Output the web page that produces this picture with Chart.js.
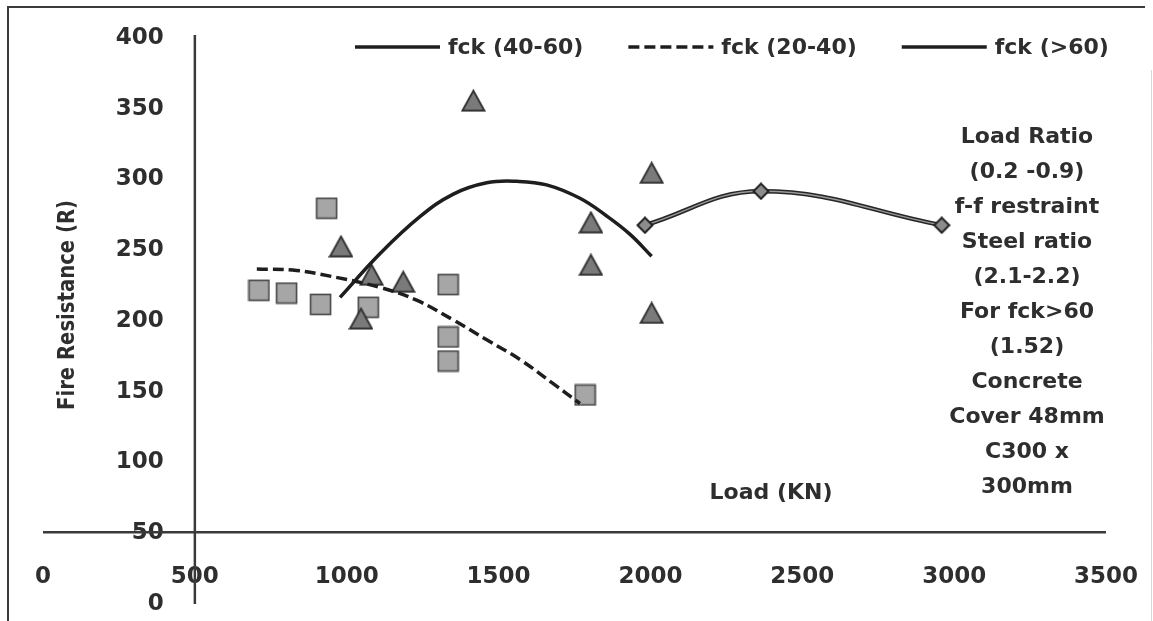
<!DOCTYPE html>
<html>
<head>
<meta charset="utf-8">
<script src="https://cdn.jsdelivr.net/npm/chart.js@4.4.0/dist/chart.umd.min.js"></script>
<style>
  html, body { margin: 0; padding: 0; background: #fff; }
  #wrap { width: 1153px; height: 621px; }
</style>
</head>
<body>
<div id="wrap"><canvas id="fireChart" width="1153" height="621"></canvas></div>
<script>
const xTicks = [0, 500, 1000, 1500, 2000, 2500, 3000, 3500];
const yTicks = [0, 50, 100, 150, 200, 250, 300, 350, 400];
const xCross = 500;
const yCross = 50;

// fck 20-40 columns (squares)
const squareLoad = [711, 802, 914, 934, 1071, 1334, 1334, 1334, 1785];
const squareFire = [221, 219, 211, 279, 209, 225, 188, 171, 147];
// fck 40-60 columns (triangles)
const triLoad = [981, 1047, 1082, 1186, 1417, 1804, 1804, 2004, 2004];
const triFire = [252, 201, 232, 227, 355, 269, 239, 304, 205];
// fck > 60 columns (diamonds, joined)
const hsLoad = [1982, 2364, 2959];
const hsFire = [267, 291, 267];

// trend curves
const trendMidLoad = [978, 1110, 1241, 1351, 1461, 1560, 1658, 1768, 1856, 1933, 2004];
const trendMidFire = [216, 247, 273, 289, 297, 298, 295.5, 286, 273.5, 260.5, 245];
const trendLowLoad = [704, 835, 945, 1110, 1230, 1351, 1461, 1571, 1680, 1768];
const trendLowFire = [236, 235, 231, 223, 214, 200, 186, 172, 155, 141];

const legendNames = ['fck (40-60)', 'fck (20-40)', 'fck (>60)'];
const noteLines = ['Load Ratio', '(0.2 -0.9)', 'f-f restraint', 'Steel ratio', '(2.1-2.2)',
  'For fck>60', '(1.52)', 'Concrete', 'Cover 48mm', 'C300 x', '300mm'];

const FONT = '"DejaVu Sans", sans-serif';
const INK = '#2e2e2e';

function pts(xs, ys) {
  return xs.map((x, i) => ({ x: x, y: ys[i] }));
}

// small canvases used as point styles
function marker(kind) {
  const c = document.createElement('canvas');
  if (kind === 'square') {
    c.width = 23; c.height = 23;
    const g = c.getContext('2d');
    g.fillStyle = '#a6a6a6';
    g.strokeStyle = '#474747';
    g.lineWidth = 1.6;
    g.fillRect(1.5, 1.5, 20, 20);
    g.strokeRect(1.5, 1.5, 20, 20);
  } else if (kind === 'triangle') {
    c.width = 25; c.height = 23;
    const g = c.getContext('2d');
    g.fillStyle = '#7a7a7a';
    g.strokeStyle = '#303030';
    g.lineWidth = 1.8;
    g.beginPath();
    g.moveTo(12.5, 1.5);
    g.lineTo(23.5, 21.5);
    g.lineTo(1.5, 21.5);
    g.closePath();
    g.fill();
    g.stroke();
  } else {
    c.width = 18; c.height = 18;
    const g = c.getContext('2d');
    g.fillStyle = '#8c8c8c';
    g.strokeStyle = '#222';
    g.lineWidth = 2;
    g.beginPath();
    g.moveTo(9, 1.5);
    g.lineTo(16.5, 9);
    g.lineTo(9, 16.5);
    g.lineTo(1.5, 9);
    g.closePath();
    g.fill();
    g.stroke();
  }
  return c;
}

const overlay = {
  id: 'overlay',
  afterDraw(chart) {
    const ctx = chart.ctx;
    const xs = chart.scales.x;
    const ys = chart.scales.y;
    const area = chart.chartArea;
    ctx.save();

    // outer frame
    ctx.strokeStyle = '#3c3c3c';
    ctx.lineWidth = 2;
    ctx.beginPath();
    ctx.moveTo(8, 621);
    ctx.lineTo(8, 7);
    ctx.lineTo(1145, 7);
    ctx.stroke();
    ctx.strokeStyle = '#d8d8d8';
    ctx.lineWidth = 1;
    ctx.beginPath();
    ctx.moveTo(1151.5, 70);
    ctx.lineTo(1151.5, 621);
    ctx.stroke();

    // tick labels
    ctx.fillStyle = INK;
    ctx.font = 'bold 23px ' + FONT;
    ctx.textBaseline = 'middle';
    ctx.textAlign = 'center';
    xTicks.forEach(v => ctx.fillText(String(v), xs.getPixelForValue(v), area.bottom - 26));
    ctx.textAlign = 'right';
    const yLabelX = xs.getPixelForValue(xCross) - 31;
    yTicks.forEach(v => ctx.fillText(String(v), yLabelX, ys.getPixelForValue(v) + 1));

    // axis lines crossing at (xCross, yCross)
    ctx.strokeStyle = '#3a3a3a';
    ctx.lineWidth = 2.5;
    ctx.beginPath();
    const ax = xs.getPixelForValue(xCross);
    ctx.moveTo(ax, area.top - 2);
    ctx.lineTo(ax, area.bottom + 1);
    const ay = ys.getPixelForValue(yCross);
    ctx.moveTo(xs.getPixelForValue(xTicks[0]), ay);
    ctx.lineTo(xs.getPixelForValue(xTicks[xTicks.length - 1]), ay);
    ctx.stroke();

    // axis titles
    ctx.textAlign = 'center';
    ctx.font = 'bold 22px ' + FONT;
    ctx.fillText('Load (KN)', 771, 493);
    ctx.save();
    ctx.translate(68, 305);
    ctx.rotate(-Math.PI / 2);
    ctx.font = 'bold 23px ' + FONT;
    const title = 'Fire Resistance (R)';
    const tw = ctx.measureText(title).width;
    ctx.scale(210 / tw, 1);
    ctx.fillText(title, 0, 0);
    ctx.restore();

    // notes on the right
    ctx.font = 'bold 22px ' + FONT;
    noteLines.forEach((s, i) => ctx.fillText(s, 1027, 137 + i * 35));

    // legend (line samples only)
    ctx.font = 'bold 22px ' + FONT;
    ctx.textAlign = 'left';
    const legendSets = [chart.data.datasets[1], chart.data.datasets[0], chart.data.datasets[4]];
    let lx = 355;
    const ly = 47;
    legendSets.forEach((ds, i) => {
      ctx.strokeStyle = '#1e1e1e';
      ctx.lineWidth = 3.5;
      ctx.setLineDash(ds.borderDash || []);
      ctx.beginPath();
      ctx.moveTo(lx, ly);
      ctx.lineTo(lx + 85, ly);
      ctx.stroke();
      ctx.setLineDash([]);
      ctx.fillText(legendNames[i], lx + 93, ly + 1);
      lx += 93 + ctx.measureText(legendNames[i]).width + 45;
    });
    ctx.restore();
  }
};

const chart = new Chart(document.getElementById('fireChart'), {
  type: 'scatter',
  data: {
    datasets: [
      {
        label: legendNames[1],
        data: pts(trendLowLoad, trendLowFire),
        showLine: true,
        borderColor: '#1e1e1e',
        borderWidth: 3.5,
        borderDash: [11, 5],
        pointRadius: 0,
        tension: 0.4
      },
      {
        label: legendNames[0],
        data: pts(trendMidLoad, trendMidFire),
        showLine: true,
        borderColor: '#1e1e1e',
        borderWidth: 3.5,
        pointRadius: 0,
        tension: 0.4
      },
      {
        label: 'fck >60 points',
        data: pts(hsLoad, hsFire),
        pointStyle: marker('diamond'),
        pointRadius: 9
      },
      {
        label: 'fck >60 core',
        data: pts(hsLoad, hsFire),
        showLine: true,
        borderColor: '#9a9a9a',
        borderWidth: 1.4,
        pointRadius: 0,
        tension: 0.4
      },
      {
        label: legendNames[2],
        data: pts(hsLoad, hsFire),
        showLine: true,
        borderColor: '#262626',
        borderWidth: 4.5,
        pointRadius: 0,
        tension: 0.4
      },
      {
        label: 'fck 40-60 tests',
        data: pts(triLoad, triFire),
        pointStyle: marker('triangle'),
        pointRadius: 11
      },
      {
        label: 'fck 20-40 tests',
        data: pts(squareLoad, squareFire),
        pointStyle: marker('square'),
        pointRadius: 11
      }
    ]
  },
  options: {
    responsive: false,
    animation: false,
    layout: { padding: { left: 43, right: 47, top: 37, bottom: 18 } },
    plugins: { legend: { display: false }, tooltip: { enabled: false } },
    scales: {
      x: { type: 'linear', min: 0, max: 3500, display: false },
      y: { type: 'linear', min: 0, max: 400, display: false }
    }
  },
  plugins: [overlay]
});
</script>
</body>
</html>
